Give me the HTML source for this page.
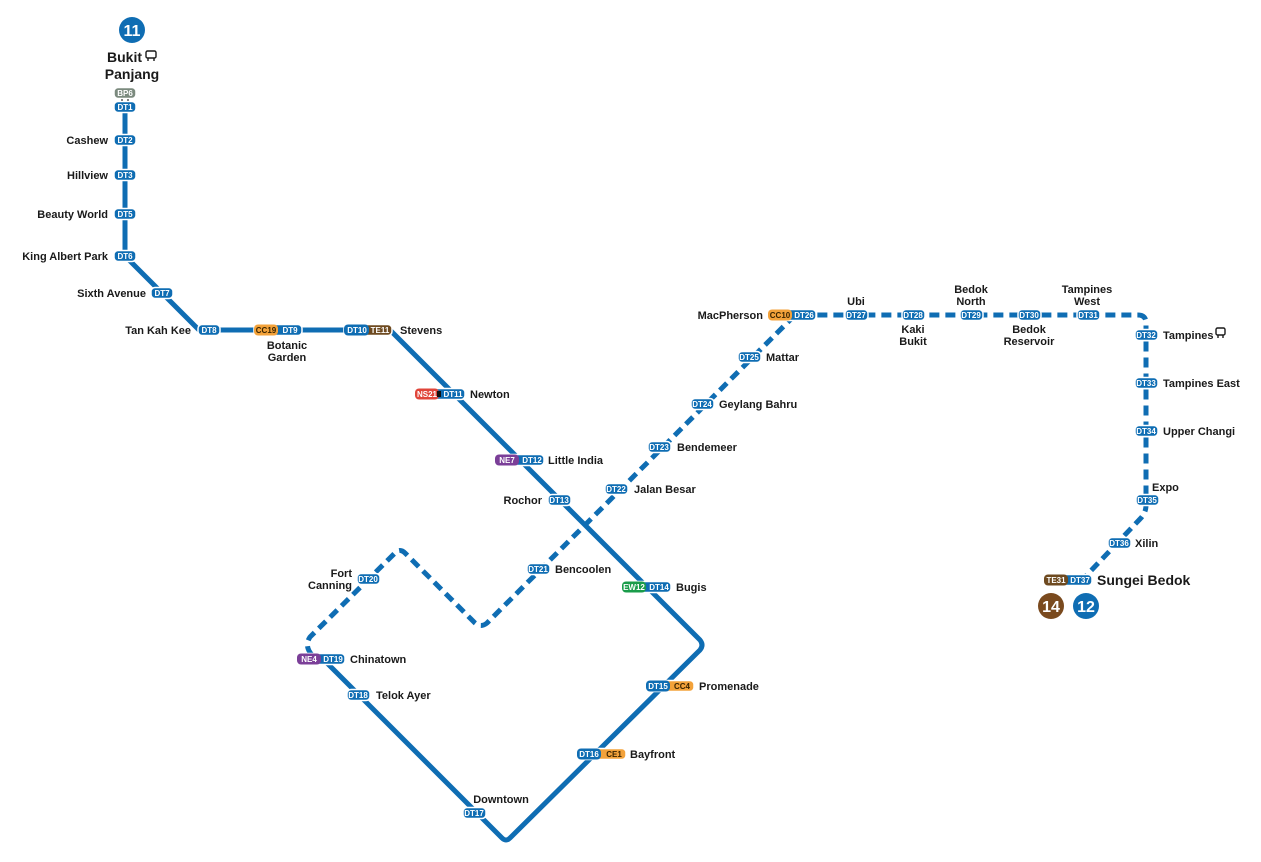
<!DOCTYPE html>
<html><head><meta charset="utf-8"><style>
html,body{margin:0;padding:0;background:#fff;}
svg{display:block;}
.n{font-family:"Liberation Sans",sans-serif;font-weight:bold;font-size:11px;fill:#1a1a1a;}
.b{font-family:"Liberation Sans",sans-serif;font-weight:bold;font-size:8px;fill:#fff;text-anchor:middle;}
.bd{fill:#3a2400;}
</style></head><body>
<svg width="1261" height="862" viewBox="0 0 1261 862" xmlns="http://www.w3.org/2000/svg">
<g fill="none" stroke="#0f6db3" stroke-width="5" stroke-linejoin="round" stroke-linecap="butt">
<path d="M125,107 L125,256 L199,330 L390,330 L700,640 Q704,645 700,650 L510,838 Q506,842 502,838 L320,656"/>
<path d="M312,655 Q304,646 310,637 L395,553 Q400,548 405,553 L475,623 Q481,628 487,623 L790,320 Q795,315 802,315 L1138,315 Q1146,315 1146,323 L1146,505 Q1146,513 1140,519 L1085,577" stroke-dasharray="10 6"/>
</g>
<line x1="122" y1="97" x2="122" y2="104" stroke="#222" stroke-width="1.5"/>
<line x1="128" y1="97" x2="128" y2="104" stroke="#222" stroke-width="1.5"/>
<g stroke="#fff" stroke-width="1.5">
<rect x="114" y="87.5" width="22" height="11" rx="4" fill="#7b8a7e"/>
<rect x="114" y="101.5" width="22" height="11" rx="4" fill="#0f6db3"/>
<rect x="114" y="134.5" width="22" height="11" rx="4" fill="#0f6db3"/>
<rect x="114" y="169.5" width="22" height="11" rx="4" fill="#0f6db3"/>
<rect x="114" y="208.5" width="22" height="11" rx="4" fill="#0f6db3"/>
<rect x="114" y="250.5" width="22" height="11" rx="4" fill="#0f6db3"/>
<rect x="151" y="287.5" width="22" height="11" rx="4" fill="#0f6db3"/>
<rect x="198" y="324.5" width="22" height="11" rx="4" fill="#0f6db3"/>
<rect x="254" y="324.5" width="48" height="11" rx="4" fill="#0f6db3"/>
<rect x="254" y="324.5" width="24" height="11" rx="4" fill="#f3a23a" stroke="none"/>
<rect x="344" y="324.5" width="48" height="11" rx="4" fill="#6e4a20"/>
<rect x="344" y="324.5" width="25" height="11" rx="4" fill="#0f6db3" stroke="none"/>
<rect x="415" y="388.5" width="50" height="11" rx="4" fill="#0f6db3"/>
<rect x="415" y="388.5" width="24" height="11" rx="4" fill="#e0453a" stroke="none"/>
<rect x="495" y="454.5" width="49" height="11" rx="4" fill="#0f6db3"/>
<rect x="495" y="454.5" width="24" height="11" rx="4" fill="#7b3f98" stroke="none"/>
<rect x="548" y="494.5" width="23" height="11" rx="4" fill="#0f6db3"/>
<rect x="622" y="581.5" width="49" height="11" rx="4" fill="#0f6db3"/>
<rect x="622" y="581.5" width="24" height="11" rx="4" fill="#1a9c4a" stroke="none"/>
<rect x="646" y="680.5" width="48" height="11" rx="4" fill="#f3a23a"/>
<rect x="646" y="680.5" width="24" height="11" rx="4" fill="#0f6db3" stroke="none"/>
<rect x="577" y="748.5" width="49" height="11" rx="4" fill="#f3a23a"/>
<rect x="577" y="748.5" width="24" height="11" rx="4" fill="#0f6db3" stroke="none"/>
<rect x="463" y="807.5" width="23" height="11" rx="4" fill="#0f6db3"/>
<rect x="347" y="689.5" width="23" height="11" rx="4" fill="#0f6db3"/>
<rect x="297" y="653.5" width="48" height="11" rx="4" fill="#0f6db3"/>
<rect x="297" y="653.5" width="24" height="11" rx="4" fill="#7b3f98" stroke="none"/>
<rect x="357" y="573.5" width="23" height="11" rx="4" fill="#0f6db3"/>
<rect x="527" y="563.5" width="23" height="11" rx="4" fill="#0f6db3"/>
<rect x="605" y="483.5" width="23" height="11" rx="4" fill="#0f6db3"/>
<rect x="648" y="441.5" width="23" height="11" rx="4" fill="#0f6db3"/>
<rect x="691" y="398.5" width="23" height="11" rx="4" fill="#0f6db3"/>
<rect x="738" y="351.5" width="23" height="11" rx="4" fill="#0f6db3"/>
<rect x="768" y="309.5" width="48" height="11" rx="4" fill="#0f6db3"/>
<rect x="768" y="309.5" width="24" height="11" rx="4" fill="#f3a23a" stroke="none"/>
<rect x="845" y="309.5" width="23" height="11" rx="4" fill="#0f6db3"/>
<rect x="902" y="309.5" width="23" height="11" rx="4" fill="#0f6db3"/>
<rect x="960" y="309.5" width="23" height="11" rx="4" fill="#0f6db3"/>
<rect x="1018" y="309.5" width="23" height="11" rx="4" fill="#0f6db3"/>
<rect x="1077" y="309.5" width="23" height="11" rx="4" fill="#0f6db3"/>
<rect x="1135" y="329.5" width="23" height="11" rx="4" fill="#0f6db3"/>
<rect x="1135" y="377.5" width="23" height="11" rx="4" fill="#0f6db3"/>
<rect x="1135" y="425.5" width="23" height="11" rx="4" fill="#0f6db3"/>
<rect x="1136" y="494.5" width="23" height="11" rx="4" fill="#0f6db3"/>
<rect x="1108" y="537.5" width="23" height="11" rx="4" fill="#0f6db3"/>
<rect x="1044" y="574.5" width="48" height="11" rx="4" fill="#0f6db3"/>
<rect x="1044" y="574.5" width="24" height="11" rx="4" fill="#6e4a20" stroke="none"/>
</g>
<rect x="437" y="391" width="4" height="6" fill="#111"/>
<g class="b">
<text x="125" y="96">BP6</text><text x="125" y="110">DT1</text><text x="125" y="143">DT2</text>
<text x="125" y="178">DT3</text><text x="125" y="217">DT5</text><text x="125" y="259">DT6</text>
<text x="162" y="296">DT7</text><text x="209" y="333">DT8</text>
<text x="266" y="333" class="bd">CC19</text><text x="290" y="333">DT9</text>
<text x="357" y="333">DT10</text><text x="380" y="333">TE11</text>
<text x="427" y="397">NS21</text><text x="453" y="397">DT11</text>
<text x="507" y="463">NE7</text><text x="532" y="463">DT12</text>
<text x="559" y="503">DT13</text>
<text x="634" y="590">EW12</text><text x="659" y="590">DT14</text>
<text x="658" y="689">DT15</text><text x="682" y="689" class="bd">CC4</text>
<text x="589" y="757">DT16</text><text x="614" y="757" class="bd">CE1</text>
<text x="474" y="816">DT17</text><text x="358" y="698">DT18</text>
<text x="309" y="662">NE4</text><text x="333" y="662">DT19</text>
<text x="368" y="582">DT20</text><text x="538" y="572">DT21</text><text x="616" y="492">DT22</text>
<text x="659" y="450">DT23</text><text x="702" y="407">DT24</text><text x="749" y="360">DT25</text>
<text x="780" y="318" class="bd">CC10</text><text x="804" y="318">DT26</text>
<text x="856" y="318">DT27</text><text x="913" y="318">DT28</text><text x="971" y="318">DT29</text>
<text x="1029" y="318">DT30</text><text x="1088" y="318">DT31</text>
<text x="1146" y="338">DT32</text><text x="1146" y="386">DT33</text><text x="1146" y="434">DT34</text>
<text x="1147" y="503">DT35</text><text x="1119" y="546">DT36</text>
<text x="1056" y="583">TE31</text><text x="1080" y="583">DT37</text>
</g>
<g class="n">
<g text-anchor="end">
<text x="108" y="144">Cashew</text><text x="108" y="179">Hillview</text>
<text x="108" y="218">Beauty World</text><text x="108" y="260">King Albert Park</text>
<text x="146" y="297">Sixth Avenue</text><text x="191" y="334">Tan Kah Kee</text>
<text x="542" y="504">Rochor</text>
<text x="352" y="577">Fort</text><text x="352" y="589">Canning</text>
<text x="763" y="319">MacPherson</text>
</g>
<g text-anchor="middle">
<text x="287" y="349">Botanic</text><text x="287" y="361">Garden</text>
<text x="501" y="803">Downtown</text>
<text x="856" y="305">Ubi</text>
<text x="913" y="333">Kaki</text><text x="913" y="345">Bukit</text>
<text x="971" y="293">Bedok</text><text x="971" y="305">North</text>
<text x="1029" y="333">Bedok</text><text x="1029" y="345">Reservoir</text>
<text x="1087" y="293">Tampines</text><text x="1087" y="305">West</text>
</g>
<text x="400" y="334">Stevens</text><text x="470" y="398">Newton</text>
<text x="548" y="464">Little India</text><text x="676" y="591">Bugis</text>
<text x="699" y="690">Promenade</text><text x="630" y="758">Bayfront</text>
<text x="376" y="699">Telok Ayer</text><text x="350" y="663">Chinatown</text>
<text x="555" y="573">Bencoolen</text><text x="634" y="493">Jalan Besar</text>
<text x="677" y="451">Bendemeer</text><text x="719" y="408">Geylang Bahru</text>
<text x="766" y="361">Mattar</text>
<text x="1163" y="339">Tampines</text><text x="1163" y="387">Tampines East</text>
<text x="1163" y="435">Upper Changi</text><text x="1152" y="491">Expo</text>
<text x="1135" y="547">Xilin</text>
<text x="1097" y="585" style="font-size:14px">Sungei Bedok</text>
<text x="142" y="62" text-anchor="end" style="font-size:14px">Bukit</text>
<text x="132" y="79" text-anchor="middle" style="font-size:14px">Panjang</text>
</g>
<g fill="none" stroke="#1a1a1a" stroke-width="1.4">
<rect x="146" y="51" width="10" height="7" rx="1.5"/><line x1="148" y1="58" x2="148" y2="61"/><line x1="154" y1="58" x2="154" y2="61"/>
<rect x="1216" y="328" width="9" height="7" rx="1.5"/><line x1="1218" y1="335" x2="1218" y2="338"/><line x1="1223" y1="335" x2="1223" y2="338"/>
</g>
<circle cx="132" cy="30" r="13" fill="#0f6db3"/>
<text x="132" y="36" text-anchor="middle" style="font-family:'Liberation Sans',sans-serif;font-weight:bold;font-size:16px;fill:#fff">11</text>
<circle cx="1051" cy="606" r="13" fill="#7a4a1e"/>
<text x="1051" y="612" text-anchor="middle" style="font-family:'Liberation Sans',sans-serif;font-weight:bold;font-size:16px;fill:#fff">14</text>
<circle cx="1086" cy="606" r="13" fill="#0f6db3"/>
<text x="1086" y="612" text-anchor="middle" style="font-family:'Liberation Sans',sans-serif;font-weight:bold;font-size:16px;fill:#fff">12</text>
</svg>
</body></html>
